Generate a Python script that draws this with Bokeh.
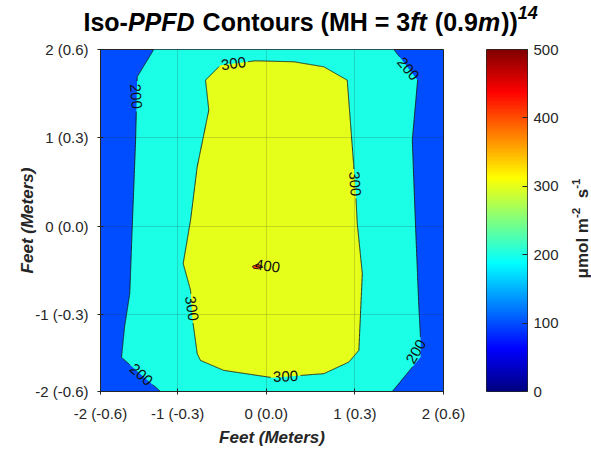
import numpy as np
from bokeh.plotting import figure
from bokeh.models import (LinearColorMapper, FixedTicker, LinearAxis, ColumnDataSource, Range1d)
from bokeh.layouts import column, row
from bokeh.embed import file_html
from bokeh.resources import INLINE
from bokeh.core.properties import value

# ---------------- data ----------------
tick_pos = [-1.87, -1.0, 0.0, 1.0, 2.0]
tick_labels = ["-2 (-0.6)", "-1 (-0.3)", "0 (0.0)", "1 (0.3)", "2 (0.6)"]

# 200 umol contour, left branch (top -> bottom), feet
c200_left_x = [-1.269, -1.456, -1.474, -1.512, -1.540, -1.599, -1.633, -1.193]
c200_left_y = [2.0, 1.691, 0.974, -0.008, -0.762, -1.140, -1.484, -1.87]
# 200 umol contour, right branch (top -> bottom)
c200_right_x = [1.440, 1.708, 1.648, 1.685, 1.722, 1.742, 1.742, 1.422]
c200_right_y = [2.0, 1.653, 0.974, -0.008, -0.914, -1.291, -1.480, -1.87]
# 300 umol contour (closed)
c300_x = [-0.685, -0.516, -0.121, 0.312, 0.650, 0.914, 0.951, 1.008, 1.027, 1.084,
          1.045, 0.932, 0.650, 0.068, -0.479, -0.742, -0.779, -0.835, -0.854, -0.937,
          -0.854, -0.779, -0.648]
c300_y = [1.653, 1.823, 1.872, 1.861, 1.804, 1.653, 1.163, 0.408, 0.031, -0.536,
          -1.404, -1.537, -1.668, -1.713, -1.631, -1.518, -1.442, -1.027, -0.725, -0.422,
          0.068, 0.672, 1.314]
# 400 umol contour (closed, tiny peak)
c400_x = [-0.155, -0.098, -0.042, -0.087, -0.143]
c400_y = [-0.453, -0.430, -0.453, -0.481, -0.476]

# fill value of each band (below 200, 200-300, 300-400, >400)
band_values = [100, 200, 300, 400]

# contour labels
lab_text = ["200", "300", "200", "300", "400", "300", "300", "200", "200"]
lab_x = [-1.47, -0.369, 1.60, 1.00, 0.015, -0.84, 0.218, -1.41, 1.69]
lab_y = [1.47, 1.84, 1.78, 0.48, -0.45, -0.93, -1.70, -1.68, -1.42]
lab_angle = [-85, 7, -50, -86, -8, -82, 3, -41, 60]

cbar_ticks = [0, 100, 200, 300, 400, 500]
cbar_low, cbar_high = 0, 500

title_parts = ["Iso-", "PPFD", " Contours (MH = 3", "ft", " (0.9", "m", "))", "14"]
title_styles = ["bold", "bold italic", "bold", "bold italic", "bold", "bold italic", "bold", "bold italic"]
unit_parts = ["μmol m", "-2", "  s", "-1"]

# ---------------- helpers ----------------
def jet(t):
    t = np.asarray(t, dtype=float)
    r = np.clip(1.5 - np.abs(4 * t - 3), 0, 1)
    g = np.clip(1.5 - np.abs(4 * t - 2), 0, 1)
    b = np.clip(1.5 - np.abs(4 * t - 1), 0, 1)
    return r, g, b

def to_hex(r, g, b):
    return "#%02x%02x%02x" % (int(round(r * 255)), int(round(g * 255)), int(round(b * 255)))

tt = (np.arange(256) + 0.5) / 256
R, G, B = jet(tt)
jet_palette = [to_hex(r, g, b) for r, g, b in zip(R, G, B)]

def band_color(v):
    r, g, b = jet((v - cbar_low) / (cbar_high - cbar_low))
    return to_hex(float(r), float(g), float(b))

TOTAL_W = 591
TITLE_H = 40
FRAME_W, FRAME_H = 343, 342
BL, BT, BB, BR = 100, 9, 60, 43
MAIN_W = BL + FRAME_W + BR
CB_W, CB_BR = 41, 34
CB_FIG_W = CB_W + CB_BR
UNIT_W = TOTAL_W - MAIN_W - CB_FIG_W
ROW_H = BT + FRAME_H + BB
FRAME_BOTTOM = TITLE_H + BT + FRAME_H       # canvas y of frame bottom

X0, X1 = tick_pos[0], tick_pos[-1]
Y0, Y1 = tick_pos[0], tick_pos[-1]
SX = FRAME_W / (X1 - X0)
SY = FRAME_H / (Y1 - Y0)
LAB_FS = 15
INK = "#262626"

def gapped(xs, ys, closed=False):
    pts = list(zip(xs, ys))
    if closed:
        pts.append(pts[0])
    X, Y = [], []
    for (x0, y0), (x1, y1) in zip(pts[:-1], pts[1:]):
        t = np.linspace(0, 1, 60, endpoint=False)
        X.extend(x0 + (x1 - x0) * t)
        Y.extend(y0 + (y1 - y0) * t)
    X.append(pts[-1][0]); Y.append(pts[-1][1])
    X = np.array(X); Y = np.array(Y)
    keep = np.ones(len(X), bool)
    for s, lx, ly, ang in zip(lab_text, lab_x, lab_y, lab_angle):
        a = np.radians(ang)
        dx = (X - lx) * SX
        dy = (Y - ly) * SY
        u = dx * np.cos(a) + dy * np.sin(a)
        v = -dx * np.sin(a) + dy * np.cos(a)
        hw = len(s) * LAB_FS * 0.556 / 2 + 2
        hh = LAB_FS * 0.45
        keep &= ~((np.abs(u) < hw) & (np.abs(v) < hh))
    X[~keep] = np.nan
    Y[~keep] = np.nan
    return X, Y

WID = {' ': 278, '(': 333, ')': 333, '-': 333, '.': 278, '=': 584, 'C': 722, 'D': 722,
       'F': 611, 'H': 722, 'I': 278, 'M': 833, 'P': 667, 'm': 889, 'n': 611, 'o': 611,
       'r': 389, 's': 556, 't': 333, 'u': 611, 'f': 333, 'e': 556, 'l': 278, 'μ': 611}

def tw(s, fs):
    return sum(WID.get(c, 556) for c in s) * fs / 1000.0

def bare_fig(w, h, yr, **kw):
    f = figure(width=w, height=h, x_range=Range1d(0, w), y_range=yr,
               x_axis_type=None, y_axis_type=None, title=None,
               min_border_left=0, min_border_right=0,
               output_backend="svg", toolbar_location=None,
               outline_line_color=None, background_fill_color="white",
               border_fill_color="white", **kw)
    f.grid.visible = False
    return f

# ---------------- title figure ----------------
pt = bare_fig(TOTAL_W, TITLE_H, Range1d(0, TITLE_H), min_border_top=0, min_border_bottom=0)
TFS = 25
tx, ty, tsz, ttxt = [], [], [], []
cx = 83.0
base = 21.0
for s, st in zip(title_parts, title_styles):
    sup = (s == "14")
    fs = TFS * (0.72 if sup else 1.0)
    lead = s[:len(s) - len(s.lstrip())]
    cx += tw(lead, fs)
    body = s.lstrip()
    tx.append(cx)
    ty.append(TITLE_H - (base - (9 if sup else 0)))
    tsz.append(f"{fs:.1f}px")
    ttxt.append(body)
    cx += tw(body, fs) + (1.0 if st == "bold italic" and not sup else 0.0)
pt.text(x="x", y="y", text="text", source=ColumnDataSource(dict(
    x=tx, y=ty, text=ttxt, st=title_styles, sz=tsz)),
    text_font=value("Liberation Sans"), text_font_style="st", text_font_size="sz",
    text_color="black", text_align="left", text_baseline="alphabetic")

# ---------------- main figure ----------------
p = figure(frame_width=FRAME_W, frame_height=FRAME_H,
           x_range=Range1d(X0, X1), y_range=Range1d(Y0, Y1), title=None,
           min_border_left=BL, min_border_top=BT, min_border_bottom=BB, min_border_right=BR,
           output_backend="svg", toolbar_location=None,
           background_fill_color=band_color(band_values[0]),
           border_fill_color="white")

p.patch(c200_left_x + c200_right_x[::-1], c200_left_y + c200_right_y[::-1],
        fill_color=band_color(band_values[1]), line_color=None)
p.patch(c300_x, c300_y, fill_color=band_color(band_values[2]), line_color=None)

for xs, ys, cl in [(c200_left_x, c200_left_y, False), (c200_right_x, c200_right_y, False),
                   (c300_x, c300_y, True)]:
    gx, gy = gapped(xs, ys, cl)
    p.line(gx, gy, line_color="#1a1a1a", line_width=0.9)

p.patch(c400_x, c400_y, fill_color=band_color(band_values[3]), line_color="#3a1010", line_width=1.0)

p.text(x=lab_x, y=lab_y, text=lab_text, angle=list(np.radians(lab_angle)),
       text_align="center", text_baseline="middle",
       text_font=value("Liberation Sans"), text_font_size=f"{LAB_FS}px", text_color="#111111")

for ax in (p.xaxis[0], p.yaxis[0]):
    ax.ticker = FixedTicker(ticks=tick_pos)
    ax.major_label_overrides = {t: l for t, l in zip(tick_pos, tick_labels)}
    ax.minor_tick_line_color = None
    ax.major_tick_in = 3
    ax.major_tick_out = 3
    ax.major_tick_line_color = INK
    ax.axis_line_color = INK
    ax.major_label_text_font = "Liberation Sans"
    ax.major_label_text_font_size = "15px"
    ax.major_label_text_color = INK
    ax.axis_label = "Feet (Meters)"
    ax.axis_label_text_font = "Liberation Sans"
    ax.axis_label_text_font_style = "bold italic"
    ax.axis_label_text_font_size = "17px"
    ax.axis_label_text_color = INK

p.xaxis.major_label_standoff = 10
p.xaxis.axis_label_standoff = 3
p.yaxis.major_label_standoff = 9
p.yaxis.axis_label_standoff = -5

p.grid.ticker = FixedTicker(ticks=tick_pos)
p.grid.grid_line_color = INK
p.grid.grid_line_alpha = 0.18
p.grid.level = "guide"
p.outline_line_color = INK
p.outline_line_width = 1

# ---------------- colorbar figure ----------------
mapper = LinearColorMapper(palette=jet_palette, low=cbar_low, high=cbar_high)
pc = figure(frame_width=CB_W, frame_height=FRAME_H,
            x_range=Range1d(0, 1), y_range=Range1d(cbar_low, cbar_high),
            x_axis_type=None, y_axis_type=None, title=None,
            min_border_left=0, min_border_top=BT, min_border_bottom=BB, min_border_right=CB_BR,
            output_backend="svg", toolbar_location=None,
            border_fill_color="white", outline_line_color=INK)
pc.grid.visible = False
grad = np.linspace(cbar_low, cbar_high, 256).reshape(256, 1)
pc.image(image=[grad], x=0, y=cbar_low, dw=1, dh=cbar_high - cbar_low, color_mapper=mapper)
cax = LinearAxis(ticker=FixedTicker(ticks=cbar_ticks))
cax.major_tick_in = 5
cax.major_tick_out = 0
cax.minor_tick_line_color = None
cax.major_tick_line_color = INK
cax.axis_line_color = None
cax.major_label_standoff = 6
cax.major_label_text_font = "Liberation Sans"
cax.major_label_text_font_size = "15px"
cax.major_label_text_color = INK
pc.add_layout(cax, "right")

# ---------------- colorbar unit label figure ----------------
# its frame is aligned with the main frame: x in px from its left edge, y in px above frame bottom
pu = bare_fig(UNIT_W, ROW_H, Range1d(0, FRAME_H), min_border_top=BT, min_border_bottom=BB)
CFS = 17
ux, uy, usz, utxt = [], [], [], []
cy = 278.0                                   # canvas y where the text starts (bottom)
bx = 582.0 - (MAIN_W + CB_FIG_W)             # baseline x inside this panel
for s in unit_parts:
    sup = s.startswith("-")
    fs = CFS * (0.68 if sup else 1.0)
    lead = s[:len(s) - len(s.lstrip())]
    cy -= tw(lead, fs)
    body = s.lstrip()
    ux.append(bx - (7 if sup else 0))
    uy.append(FRAME_BOTTOM - cy)
    usz.append(f"{fs:.1f}px")
    utxt.append(body)
    cy -= tw(body, fs)
pu.text(x="x", y="y", text="text", source=ColumnDataSource(dict(
    x=ux, y=uy, text=utxt, sz=usz)), angle=np.pi / 2,
    text_font=value("Liberation Sans"), text_font_style="bold", text_font_size="sz",
    text_color=INK, text_align="left", text_baseline="alphabetic")

layout = column(pt, row(p, pc, pu, spacing=0), spacing=0)
open("out.html", "w").write(file_html(layout, INLINE))
